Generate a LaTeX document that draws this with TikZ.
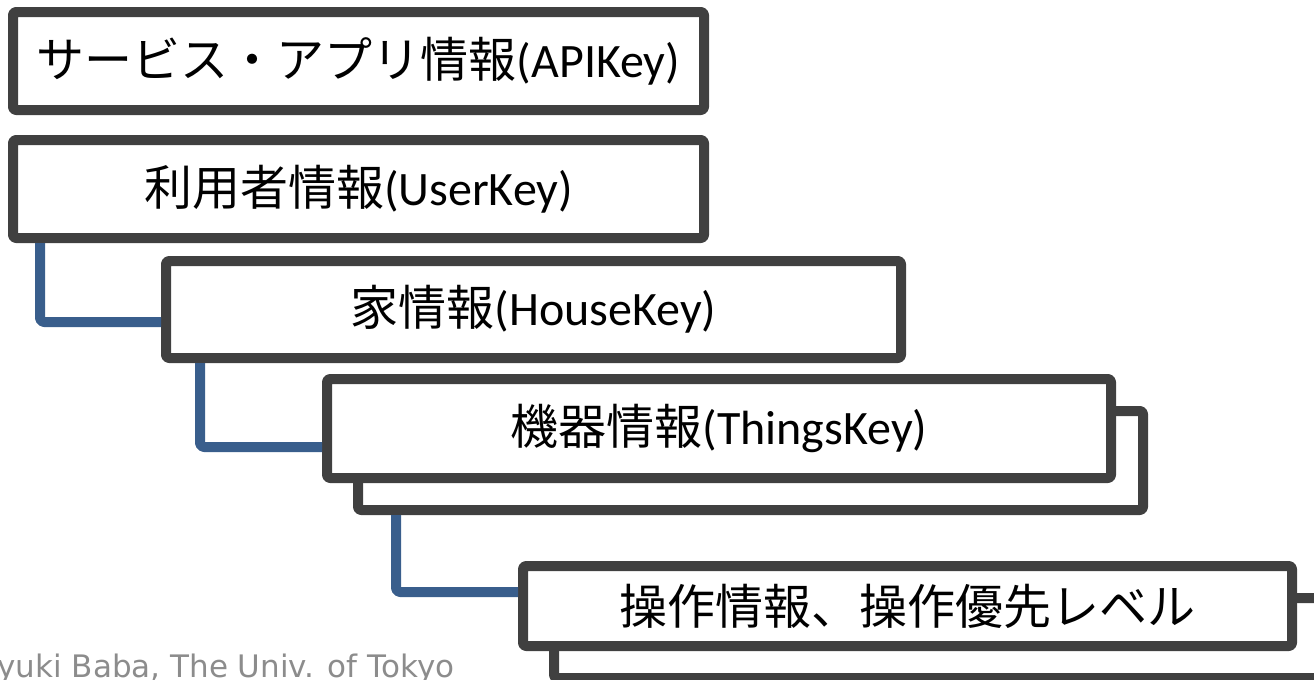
\documentclass[tikz,border=0pt]{standalone}
\usepackage{fontspec}
\setmainfont{Carlito}
\newfontfamily\cjk{Noto Sans CJK JP}
\newfontfamily\footfont{DejaVu Sans}
\definecolor{boxgray}{HTML}{404040}
\definecolor{linkblue}{HTML}{395E8C}
\definecolor{footgray}{HTML}{8C8C8C}
\tikzset{
  box/.style={draw=boxgray, line width=5pt, fill=white, line join=round,
    rounded corners=1.5pt, inner sep=0pt, align=center,
    font=\fontsize{24}{28}\selectfont},
  link/.style={draw=linkblue, line width=5pt, line join=round, rounded corners=2pt},
  foot/.style={font=\footfont\fontsize{15.5}{17}\selectfont, text=footgray, inner sep=0pt}
}
\begin{document}
\begin{tikzpicture}[x=0.5pt,y=-0.5pt]
\useasboundingbox (0,0) rectangle (1314,680);
\clip (0,0) rectangle (1314,680);
% boxes
\node[box, minimum width=345.5pt, minimum height=49pt] (b1) at (358.5,61)
  {{\cjk サービス・アプリ情報}(APIKey)};
\node[box, minimum width=345.5pt, minimum height=49pt] (b2) at (358.5,189)
  {{\cjk 利用者情報}(UserKey)};
\node[box, minimum width=367.5pt, minimum height=48.5pt] (b3) at (533.5,309.5)
  {{\cjk 家情報}(HouseKey)};
\node[box, minimum width=392.5pt, minimum height=49.5pt] (b4back) at (750.5,460.5) {};
\node[box, minimum width=392pt, minimum height=49.5pt] (b4) at (719,428.5)
  {{\cjk 機器情報}(ThingsKey)};
\node[box, minimum width=384.5pt, minimum height=40pt] (b5back) at (938.5,638) {};
\node[box, minimum width=384.5pt, minimum height=40pt] (b5) at (907.5,606)
  {{\cjk 操作情報、操作優先レベル}};
% connectors
\draw[link] ([xshift=16pt]b2.south west) |- ([yshift=-6.25pt]b3.west);
\draw[link] ([xshift=19.5pt]b3.south west) |- ([yshift=-9.25pt]b4.west);
\draw[link] ([xshift=21.5pt]b4back.south west) |- ([yshift=7pt]b5.west);
% footer
\node[foot, anchor=base west] (footer) at (-3,677) {yuki Baba, The Univ. of Tokyo};
\end{tikzpicture}
\end{document}
